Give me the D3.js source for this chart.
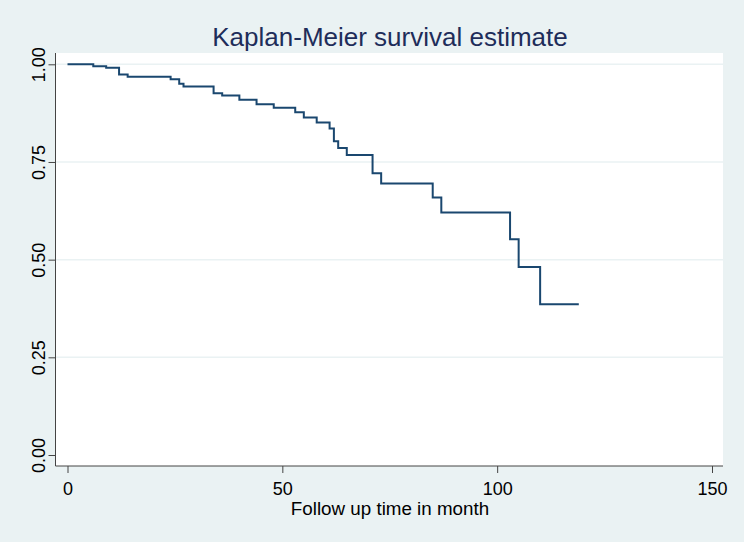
<!DOCTYPE html>
<html>
<head>
<meta charset="utf-8">
<script src="https://cdn.jsdelivr.net/npm/d3@7"></script>
<style>
    body { margin: 0; background: #eaf2f3; }
    #chart { width: 744px; height: 542px; }
    text { font-family: "Liberation Sans", Arial, sans-serif; }
</style>
</head>
<body>
<div id="chart"></div>
<script>
// Kaplan-Meier step points (time in months, survival)
const times    = [0, 6, 9, 12, 14, 24, 26, 27, 34, 36, 40, 44, 48, 53, 55, 58, 61, 62, 63, 65, 71, 73, 85, 87, 103, 105, 110, 119];
const survival = [1.000, 0.995, 0.991, 0.974, 0.968, 0.962, 0.950, 0.943, 0.926, 0.920, 0.909, 0.898, 0.889, 0.877, 0.864, 0.851, 0.836, 0.803, 0.786, 0.768, 0.721, 0.695, 0.659, 0.621, 0.552, 0.481, 0.386, 0.386];
const xTicks = [0, 50, 100, 150];
const yTicks = [0, 0.25, 0.5, 0.75, 1];

function renderKM(selector) {
    const W = 744, H = 542;
    const plot = {left: 55.5, right: 723, top: 53, bottom: 466};

    const svg = d3.select(selector).append("svg")
        .attr("width", W)
        .attr("height", H);

    svg.append("rect")
        .attr("width", W).attr("height", H)
        .attr("fill", "#eaf2f3");

    svg.append("rect")
        .attr("x", plot.left).attr("y", plot.top)
        .attr("width", plot.right - plot.left)
        .attr("height", plot.bottom - plot.top)
        .attr("fill", "#ffffff");

    const x = d3.scaleLinear().domain([0, 150]).range([67.5, 712]);
    const y = d3.scaleLinear().domain([0, 1]).range([455, 64.3]);

    // grid
    svg.append("g")
        .selectAll("line")
        .data(yTicks.filter(d => d > 0))
        .enter().append("line")
        .attr("x1", plot.left).attr("x2", plot.right)
        .attr("y1", d => y(d)).attr("y2", d => y(d))
        .attr("stroke", "#eaf2f3")
        .attr("stroke-width", 1.5);

    // y axis
    const yAxis = svg.append("g")
        .attr("transform", `translate(${plot.left},0)`)
        .call(d3.axisLeft(y).tickValues(yTicks).tickSize(7).tickFormat(d3.format(".2f")));
    yAxis.select(".domain")
        .attr("d", `M0,${plot.top}V${plot.bottom}`)
        .attr("stroke", "#444");
    yAxis.selectAll(".tick line").attr("stroke", "#444");
    yAxis.selectAll(".tick text")
        .attr("x", null).attr("dy", null)
        .attr("transform", "translate(-11,0) rotate(-90)")
        .attr("text-anchor", "middle")
        .attr("font-size", 18)
        .attr("fill", "#000");

    // x axis
    const xAxis = svg.append("g")
        .attr("transform", `translate(0,${plot.bottom})`)
        .call(d3.axisBottom(x).tickValues(xTicks).tickSize(7));
    xAxis.select(".domain")
        .attr("d", `M${plot.left},0H${plot.right}`)
        .attr("stroke", "#444");
    xAxis.selectAll(".tick line").attr("stroke", "#444");
    xAxis.selectAll(".tick text")
        .attr("y", 29).attr("dy", null)
        .attr("font-size", 18)
        .attr("fill", "#000");

    // survival step line
    const pts = times.map((t, i) => [t, survival[i]]);
    svg.append("path")
        .datum(pts)
        .attr("fill", "none")
        .attr("stroke", "#1a476f")
        .attr("stroke-width", 2)
        .attr("d", d3.line()
            .x(d => x(d[0]))
            .y(d => y(d[1]))
            .curve(d3.curveStepAfter));

    svg.append("text")
        .attr("x", 390).attr("y", 46)
        .attr("text-anchor", "middle")
        .attr("font-size", 26)
        .attr("fill", "#1e2d5a")
        .text("Kaplan-Meier survival estimate");

    svg.append("text")
        .attr("x", 390).attr("y", 515)
        .attr("text-anchor", "middle")
        .attr("font-size", 18.8)
        .attr("fill", "#000")
        .text("Follow up time in month");
}

renderKM("#chart");
</script>
</body>
</html>
